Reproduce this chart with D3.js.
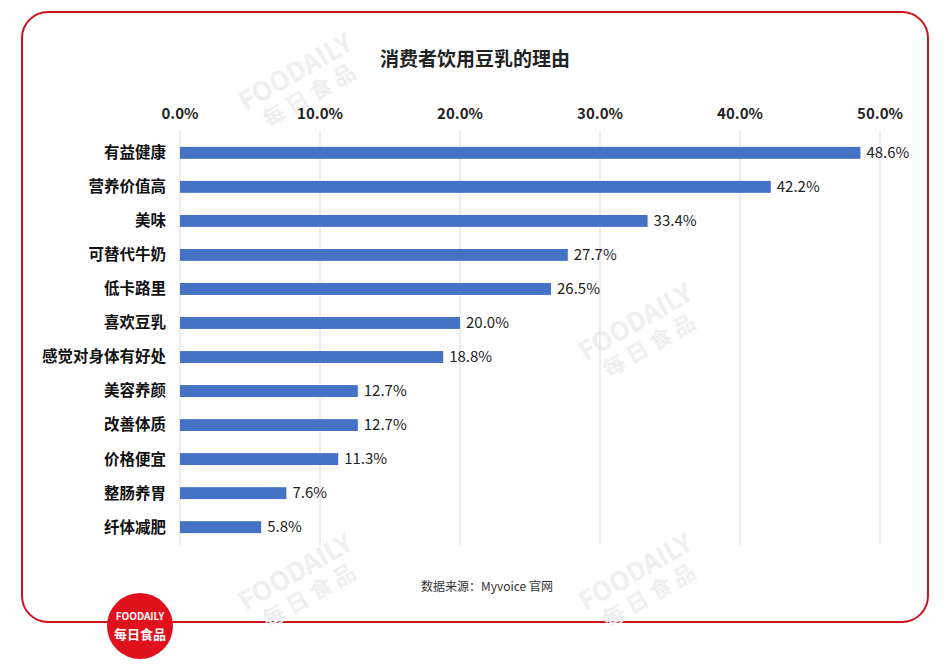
<!DOCTYPE html>
<html><head><meta charset="utf-8">
<script src="https://cdn.jsdelivr.net/npm/d3@7"></script>
<style>body{margin:0;background:#fff;font-family:"Noto Sans CJK SC","Noto Sans",sans-serif}</style>
</head><body>
<svg width="949" height="666"></svg>
<script>
const categories = ["有益健康","营养价值高","美味","可替代牛奶","低卡路里","喜欢豆乳","感觉对身体有好处","美容养颜","改善体质","价格便宜","整肠养胃","纤体减肥"];
const values = [48.6,42.2,33.4,27.7,26.5,20.0,18.8,12.7,12.7,11.3,7.6,5.8];
const ticks = [0,10,20,30,40,50];

const svg = d3.select("svg");
svg.append("rect").attr("x",22).attr("y",12).attr("width",906).attr("height",610)
  .attr("rx",26).attr("fill","#fff").attr("stroke","#d0121b").attr("stroke-width",2);

// faint watermarks
[[300,80],[640,330],[300,580],[640,580]].forEach(([wx,wy])=>{
  const g = svg.append("g").attr("transform",`translate(${wx},${wy}) rotate(-30)`).attr("fill","#efefef").attr("text-anchor","middle");
  g.append("text").attr("font-size",26).attr("font-weight","bold").text("FOODAILY");
  g.append("text").attr("y",26).attr("font-size",22).attr("font-weight","bold").text("每 日 食 品");
});

svg.append("text").attr("x",475).attr("y",66).attr("text-anchor","middle")
  .attr("font-size",19).attr("font-weight","bold").attr("fill","#222").text("消费者饮用豆乳的理由");

const x = d3.scaleLinear().domain([0,50]).range([180,880]);
const y = d3.scaleBand().domain(categories).range([136,544]).paddingInner(0.65).paddingOuter(0.32);

svg.append("g").selectAll("line").data(ticks).join("line")
  .attr("x1",d=>x(d)).attr("x2",d=>x(d)).attr("y1",130).attr("y2",545)
  .attr("stroke","#d9d9d9");
svg.append("g").selectAll("text").data(ticks).join("text")
  .attr("x",d=>x(d)).attr("y",119).attr("text-anchor","middle")
  .attr("font-size",15).attr("font-weight","bold").attr("fill","#222").text(d=>d.toFixed(1)+"%");

const rows = svg.append("g").selectAll("g").data(categories).join("g");
rows.append("rect").attr("x",x(0)).attr("y",d=>y(d)).attr("height",y.bandwidth())
  .attr("width",(d,i)=>x(values[i])-x(0)).attr("fill","#4472c4");
rows.append("text").attr("x",166).attr("y",d=>y(d)+y.bandwidth()/2).attr("dy","0.35em")
  .attr("text-anchor","end").attr("font-size",15.5).attr("font-weight","bold").attr("fill","#111").text(d=>d);
rows.append("text").attr("x",(d,i)=>x(values[i])+6).attr("y",d=>y(d)+y.bandwidth()/2).attr("dy","0.35em")
  .attr("font-size",15).attr("fill","#222").text((d,i)=>values[i].toFixed(1)+"%");

svg.append("text").attr("x",487).attr("y",591).attr("text-anchor","middle")
  .attr("font-size",12).attr("fill","#333").text("数据来源：Myvoice 官网");

svg.append("circle").attr("cx",140).attr("cy",626).attr("r",33).attr("fill","#e0101c");
svg.append("text").attr("x",140).attr("y",620).attr("text-anchor","middle").attr("font-size",10)
  .attr("font-weight","bold").attr("fill","#fff").text("FOODAILY");
svg.append("text").attr("x",140).attr("y",639).attr("text-anchor","middle").attr("font-size",13)
  .attr("font-weight","bold").attr("fill","#fff").text("每日食品");
</script>
</body></html>
